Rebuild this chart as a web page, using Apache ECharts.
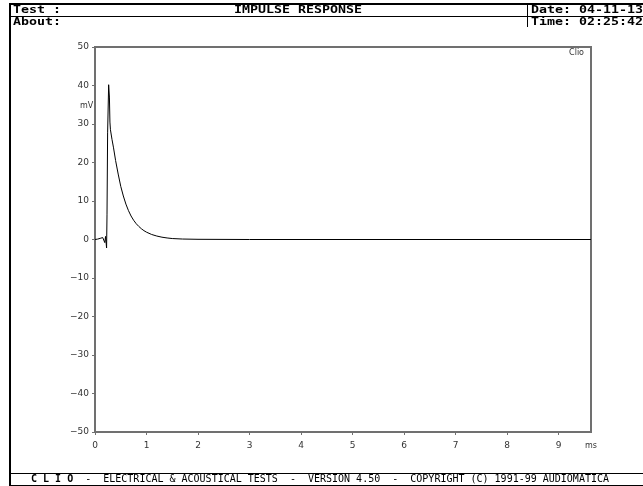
<!DOCTYPE html>
<html>
<head>
<meta charset="utf-8">
<script src="https://cdn.jsdelivr.net/npm/echarts@6/dist/echarts.min.js"></script>
<style>
  html, body { margin: 0; padding: 0; background: #fff; }
  #chart { width: 643px; height: 486px; }
</style>
</head>
<body>
<div id="chart"></div>
<script>
// Impulse response, time in ms, amplitude in mV
const timeMs = [
  0, 0.05, 0.10, 0.15, 0.17, 0.19, 0.205, 0.215, 0.225, 0.233, 0.245, 0.265,
  0.28, 0.29, 0.30, 0.33, 0.36, 0.40, 0.45, 0.50, 0.55, 0.60, 0.65, 0.70,
  0.75, 0.80, 0.85, 0.90, 0.95, 1.00, 1.10, 1.20, 1.30, 1.40, 1.50, 1.70,
  2.00, 3.00, 9.63
];
const voltageMv = [
  0, 0.1, 0.3, 0.5, 1.0, -0.8, 0.8, 0.5, -2.2, 6.4, 27.7, 40.2,
  37, 30.5, 28.5, 26, 23.8, 20.5, 17, 13.8, 11.3, 9.2, 7.5, 6.1,
  5.0, 4.1, 3.4, 2.8, 2.3, 1.9, 1.3, 0.9, 0.6, 0.4, 0.25, 0.12,
  0.05, 0, 0
];
const xTicks = [0, 1, 2, 3, 4, 5, 6, 7, 8, 9];
const yTicks = [-50, -40, -30, -20, -10, 0, 10, 20, 30, 40, 50];

const headerTitle = 'IMPULSE RESPONSE';
const headerTest = 'Test :';
const headerAbout = 'About:';
const headerDate = 'Date: 04-11-13';
const headerTime = 'Time: 02:25:42';
const footerBrand = 'C L I O';
const footerRest = '  -  ELECTRICAL & ACOUSTICAL TESTS  -  VERSION 4.50  -  COPYRIGHT (C) 1991-99 AUDIOMATICA';

const chart = echarts.init(document.getElementById('chart'), null, { renderer: 'canvas' });

const axisGrey = '#707070';
const labelStyle = { color: '#333', fontSize: 9, fontFamily: 'DejaVu Sans' };
const monoBold = '700 10px "DejaVu Sans Mono"';

function headText(x, y, text, align) {
  return {
    type: 'text', x: x, y: y, scaleX: 1.33, silent: true,
    style: { text: text, font: monoBold, fill: '#000', textAlign: align || 'left', textVerticalAlign: 'middle' }
  };
}

chart.setOption({
  animation: false,
  backgroundColor: '#fff',
  grid: {
    left: 95, top: 47, right: 52, bottom: 54,
    show: true, borderColor: axisGrey, borderWidth: 2, backgroundColor: 'transparent'
  },
  xAxis: {
    type: 'value',
    min: xTicks[0], max: 9.63, interval: 1,
    axisLine: { show: true, onZero: false, lineStyle: { color: axisGrey, width: 2 } },
    axisTick: { show: true, length: 3, lineStyle: { color: axisGrey } },
    axisLabel: Object.assign({ margin: 9, showMaxLabel: false,
      formatter: v => xTicks.includes(v) ? String(v) : '' }, labelStyle),
    splitLine: { show: false }
  },
  yAxis: {
    type: 'value',
    min: yTicks[0], max: yTicks[yTicks.length - 1], interval: 10,
    axisLine: { show: true, onZero: false, lineStyle: { color: axisGrey, width: 2 } },
    axisTick: { show: true, length: 3, lineStyle: { color: axisGrey } },
    axisLabel: Object.assign({ margin: 6, formatter: v => String(v).replace('-', '\u2212') }, labelStyle),
    splitLine: { show: false }
  },
  series: [{
    type: 'line',
    data: timeMs.map((t, i) => [t, voltageMv[i]]),
    showSymbol: false,
    lineStyle: { color: '#000', width: 1 },
    silent: true
  }],
  graphic: [
    // frame: top rule and left rule
    { type: 'rect', shape: { x: 9, y: 3, width: 634, height: 2 }, style: { fill: '#000' }, silent: true },
    { type: 'rect', shape: { x: 9, y: 3, width: 2, height: 483 }, style: { fill: '#000' }, silent: true },
    // header row divider and column divider
    { type: 'rect', shape: { x: 9, y: 16, width: 634, height: 1 }, style: { fill: '#000' }, silent: true },
    { type: 'rect', shape: { x: 527, y: 3, width: 1, height: 24 }, style: { fill: '#000' }, silent: true },
    headText(13, 10.5, headerTest),
    headText(13, 22, headerAbout),
    headText(298, 10.5, headerTitle, 'center'),
    headText(531, 10.5, headerDate),
    headText(531, 22, headerTime),
    // footer
    { type: 'rect', shape: { x: 9, y: 473, width: 634, height: 1 }, style: { fill: '#000' }, silent: true },
    { type: 'rect', shape: { x: 9, y: 485, width: 634, height: 1 }, style: { fill: '#000' }, silent: true },
    {
      type: 'text', x: 320, y: 479.5, silent: true,
      style: {
        text: '{b|' + footerBrand + '}{r|' + footerRest + '}',
        textAlign: 'center', textVerticalAlign: 'middle',
        rich: {
          b: { font: '700 10px "DejaVu Sans Mono"', fill: '#000' },
          r: { font: '400 10px "DejaVu Sans Mono"', fill: '#000' }
        }
      }
    },
    // plot annotations
    { type: 'text', x: 80, y: 106, silent: true,
      style: { text: 'mV', font: '8px "DejaVu Sans"', fill: '#333', textVerticalAlign: 'middle' } },
    { type: 'text', x: 585, y: 446, silent: true,
      style: { text: 'ms', font: '8px "DejaVu Sans"', fill: '#333', textVerticalAlign: 'middle' } },
    { type: 'text', x: 584, y: 53, silent: true,
      style: { text: 'Clio', font: '8px "DejaVu Sans"', fill: '#333', textAlign: 'right', textVerticalAlign: 'middle' } }
  ]
});
</script>
</body>
</html>
